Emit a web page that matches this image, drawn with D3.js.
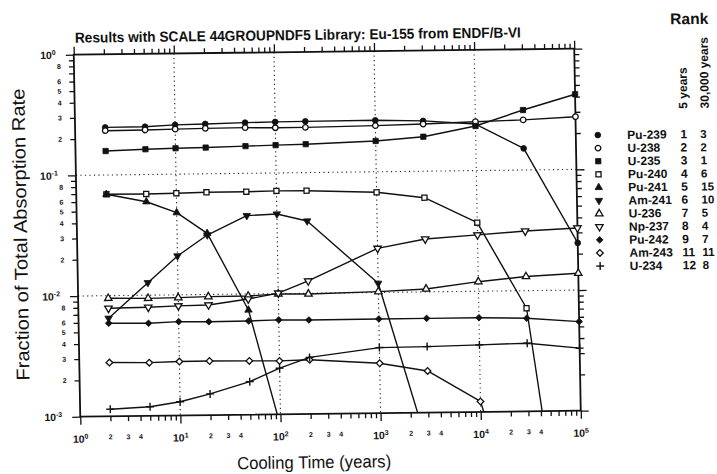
<!DOCTYPE html>
<html>
<head>
<meta charset="utf-8">
<script src="https://cdn.jsdelivr.net/npm/d3@7"></script>
<style>
  html, body { margin: 0; padding: 0; background: #fff; }
  svg { display: block; }
  text { font-family: "Liberation Sans", Arial, Helvetica, sans-serif; fill: #111; }
</style>
</head>
<body>
<svg id="chart" width="717" height="474"></svg>
<script>
// ---- data -------------------------------------------------------------
const years = [2, 5, 10, 20, 50, 100, 200, 1000, 3000, 10000, 30000, 100000];

const pu239 = [0.248, 0.249, 0.256, 0.259, 0.263, 0.265, 0.266, 0.267, 0.261, 0.243, 0.151, 0.0246];
const u238  = [0.233, 0.234, 0.236, 0.238, 0.239, 0.237, 0.237, 0.241, 0.246, 0.254, 0.260, 0.273];
const u235  = [0.158, 0.162, 0.164, 0.165, 0.168, 0.170, 0.172, 0.180, 0.193, 0.234, 0.314, 0.419];
const pu240 = [0.0692, 0.0690, 0.0695, 0.0703, 0.0704, 0.0710, 0.0708, 0.0676, 0.0603, 0.0370, 0.00715, 0.000004];
const pu241 = [0.0692, 0.0595, 0.0480, 0.0321, 0.00737, 0.00079];
const am241 = [0.0065, 0.0127, 0.0210, 0.0311, 0.0446, 0.0457, 0.0397, 0.0119, 0.00049];
const u236  = [0.00951, 0.00942, 0.00948, 0.00959, 0.00962, 0.00995, 0.00987, 0.01016, 0.01057, 0.0120, 0.0131, 0.01378];
const np237 = [0.00786, 0.00794, 0.00810, 0.00819, 0.00909, 0.0101, 0.01265, 0.0232, 0.0274, 0.0293, 0.0312, 0.0327];
const pu242 = [0.00591, 0.00585, 0.00600, 0.00595, 0.00598, 0.00606, 0.00601, 0.00603, 0.00603, 0.00603, 0.00591, 0.00547];
const am243 = [0.00279, 0.00276, 0.00280, 0.00281, 0.00279, 0.00277, 0.00281, 0.00259, 0.00221, 0.00122, 0.00006];
const u234  = [0.001146, 0.00119, 0.00130, 0.00150, 0.001876, 0.00241, 0.00294, 0.00349, 0.00352, 0.00359, 0.00367, 0.00330];

const nuclides = ["Pu-239", "U-238", "U-235", "Pu-240", "Pu-241", "Am-241", "U-236", "Np-237", "Pu-242", "Am-243", "U-234"];
const rank5yr   = ["1", "2", "3", "4", "5", "6", "7", "8", "9", "11", "12"];
const rank30kyr = ["3", "2", "1", "6", "15", "10", "5", "4", "7", "11", "8"];

const xMajorTicks = [1, 10, 100, 1000, 10000, 100000];
const xMinorLabels = [2, 3, 4];
const yMajorTicks = [1, 0.1, 0.01, 0.001];
const yMinorLabels = [8, 6, 5, 4, 3, 2];

const titleText = "Results with SCALE 44GROUPNDF5 Library: Eu-155 from ENDF/B-VI";
const xTitle = "Cooling Time (years)";
const yTitle = "Fraction of Total Absorption Rate";

// ---- layout ------------------------------------------------------------
const plot = { left: 77, right: 577.5, top: 51.7, bottom: 413.7 };

const x = d3.scaleLog().domain([1, 1e5]).range([plot.left, plot.right]);
const y = d3.scaleLog().domain([1e-3, 1]).range([plot.bottom, plot.top]);

const svg = d3.select("#chart");
// the printed page sits slightly askew
const root = svg.append("g").attr("transform", "matrix(1,-0.012,0.018,1,-4.19,3.93)");

root.append("defs").append("clipPath").attr("id", "plotClip")
  .append("rect")
  .attr("x", plot.left).attr("y", plot.top)
  .attr("width", plot.right - plot.left).attr("height", plot.bottom - plot.top);

// ---- grid ---------------------------------------------------------------
const grid = root.append("g").attr("stroke", "#222").attr("stroke-width", 1.1)
  .attr("stroke-dasharray", "1.2,3.3");
grid.selectAll("line.v").data(xMajorTicks.slice(1, -1)).join("line")
  .attr("x1", d => x(d)).attr("x2", d => x(d))
  .attr("y1", plot.top).attr("y2", plot.bottom);
grid.selectAll("line.h").data(yMajorTicks.slice(1, -1)).join("line")
  .attr("x1", plot.left).attr("x2", plot.right)
  .attr("y1", d => y(d)).attr("y2", d => y(d));

// ---- axes (ticks on all four sides, pointing outward) --------------------
const xMinor = [];
for (let e = 0; e < 5; e++) for (let m = 2; m <= 9; m++) xMinor.push(m * Math.pow(10, e));
const yMinor = [];
for (let e = -3; e < 0; e++) for (let m = 2; m <= 9; m++) yMinor.push(m * Math.pow(10, e));

function ticks(axisFn, scale, majors, minors, tx, ty) {
  const g = root.append("g").attr("transform", `translate(${tx},${ty})`);
  g.append("g").call(axisFn(scale).tickValues(majors).tickSize(8).tickFormat(""));
  g.append("g").call(axisFn(scale).tickValues(minors).tickSize(5).tickFormat(""));
  g.selectAll(".domain").remove();
  g.selectAll(".tick line").attr("stroke", "#111").attr("stroke-width", 1.3);
}
ticks(d3.axisBottom, x, xMajorTicks, xMinor, 0, plot.bottom);
ticks(d3.axisTop, x, xMajorTicks, xMinor, 0, plot.top);
ticks(d3.axisLeft, y, yMajorTicks, yMinor, plot.left, 0);
ticks(d3.axisRight, y, yMajorTicks, yMinor, plot.right, 0);

root.append("rect")
  .attr("x", plot.left).attr("y", plot.top)
  .attr("width", plot.right - plot.left).attr("height", plot.bottom - plot.top)
  .attr("fill", "none").attr("stroke", "#111").attr("stroke-width", 1.8);

// ---- tick labels ----------------------------------------------------------
const xLab = root.append("g").attr("font-weight", "bold");
xMajorTicks.forEach((v, i) => {
  const t = xLab.append("text").attr("x", x(v)).attr("y", plot.bottom + 26)
    .attr("text-anchor", "middle").attr("font-size", 10.5);
  t.append("tspan").text("10");
  t.append("tspan").attr("font-size", 7).attr("dy", -4).text(String(i));
});
for (let e = 0; e < 5; e++) {
  xMinorLabels.forEach(m => {
    xLab.append("text").attr("x", x(m * Math.pow(10, e))).attr("y", plot.bottom + 23)
      .attr("text-anchor", "middle").attr("font-size", 7).text(m);
  });
}

const yLab = root.append("g").attr("font-weight", "bold");
yMajorTicks.forEach((v, i) => {
  const t = yLab.append("text").attr("x", plot.left - 18).attr("y", y(v) + 4)
    .attr("text-anchor", "end").attr("font-size", 10.5);
  t.append("tspan").text("10");
  t.append("tspan").attr("font-size", 7).attr("dy", -4).text(i === 0 ? "0" : "-" + i);
});
for (let e = -1; e >= -3; e--) {
  yMinorLabels.forEach(m => {
    yLab.append("text").attr("x", plot.left - 15).attr("y", y(m * Math.pow(10, e)) + 2.5)
      .attr("text-anchor", "middle").attr("font-size", 7).text(m);
  });
}

// ---- titles ----------------------------------------------------------------
root.append("text").attr("x", 78.4).attr("y", 39.7)
  .attr("font-size", 14.5).attr("font-weight", "bold")
  .attr("textLength", 446).attr("lengthAdjust", "spacingAndGlyphs")
  .text(titleText);

root.append("text").attr("x", 310).attr("y", 468)
  .attr("text-anchor", "middle").attr("font-size", 17.5)
  .attr("textLength", 154).attr("lengthAdjust", "spacingAndGlyphs")
  .text(xTitle);

root.append("text")
  .attr("transform", "translate(27,231) rotate(-90)")
  .attr("text-anchor", "middle").attr("font-size", 18.5)
  .attr("textLength", 292).attr("lengthAdjust", "spacingAndGlyphs")
  .text(yTitle);

// ---- series ----------------------------------------------------------------
const seriesValues = [pu239, u238, u235, pu240, pu241, am241, u236, np237, pu242, am243, u234];
const markerStyle = [
  { type: d3.symbolCircle, size: 26, fill: true },
  { type: d3.symbolCircle, size: 24, fill: false },
  { type: d3.symbolSquare, size: 28, fill: true },
  { type: d3.symbolSquare, size: 26, fill: false },
  { type: d3.symbolTriangle, size: 24, fill: true },
  { type: d3.symbolTriangle, size: 24, fill: true, flip: true },
  { type: d3.symbolTriangle, size: 24, fill: false },
  { type: d3.symbolTriangle, size: 24, fill: false, flip: true },
  { type: d3.symbolSquare, size: 22, fill: true, diamond: true },
  { type: d3.symbolSquare, size: 22, fill: false, diamond: true },
  { type: "plus", size: 8, fill: false }
];

const series = nuclides.map((name, i) => ({
  name,
  points: seriesValues[i].map((v, j) => ({ t: years[j], v }))
}));

const line = d3.line().x(d => x(d.t)).y(d => y(d.v));

const linesG = root.append("g").attr("clip-path", "url(#plotClip)");
linesG.selectAll("path").data(series).join("path")
  .attr("d", d => line(d.points))
  .attr("fill", "none").attr("stroke", "#111").attr("stroke-width", 1.4)
  .attr("stroke-linejoin", "round");

function drawMarker(g, style, cx, cy) {
  if (style.type === "plus") {
    const h = style.size / 2;
    g.append("path")
      .attr("d", `M${cx - h},${cy}H${cx + h}M${cx},${cy - h}V${cy + h}`)
      .attr("stroke", "#111").attr("stroke-width", 1.4).attr("fill", "none");
    return;
  }
  let rot = 0;
  if (style.flip) rot = 180;
  if (style.diamond) rot = 45;
  g.append("path")
    .attr("d", d3.symbol().type(style.type).size(style.size)())
    .attr("transform", `translate(${cx},${cy}) rotate(${rot})`)
    .attr("fill", style.fill ? "#111" : "#fff")
    .attr("stroke", "#111").attr("stroke-width", style.fill ? 0.8 : 1.3);
}

const markG = root.append("g");
series.forEach((s, i) => {
  s.points.filter(p => p.v >= 1e-3 && p.v <= 1).forEach(p => {
    drawMarker(markG, markerStyle[i], x(p.t), y(p.v));
  });
});

// ---- rank legend --------------------------------------------------------------
const leg = root.append("g").attr("font-weight", "bold");
leg.append("text").attr("x", 693).attr("y", 28.5).attr("text-anchor", "middle")
  .attr("font-size", 15.5).text("Rank");
leg.append("text").attr("transform", "translate(689.5,113) rotate(-90)")
  .attr("font-size", 12).text("5 years");
leg.append("text").attr("transform", "translate(711,113) rotate(-90)")
  .attr("font-size", 12).text("30,000 years");

const rowY = d3.scalePoint().domain(nuclides).range([138.3, 269.3]);
nuclides.forEach((name, i) => {
  const cy = rowY(name);
  drawMarker(leg, markerStyle[i], 599.5, cy);
  leg.append("text").attr("x", 629).attr("y", cy + 4.3).attr("font-size", 12).text(name);
  leg.append("text").attr("x", 682).attr("y", cy + 4.3).attr("font-size", 12).text(rank5yr[i]);
  leg.append("text").attr("x", 702).attr("y", cy + 4.3).attr("font-size", 11.5).text(rank30kyr[i]);
});
</script>
</body>
</html>
